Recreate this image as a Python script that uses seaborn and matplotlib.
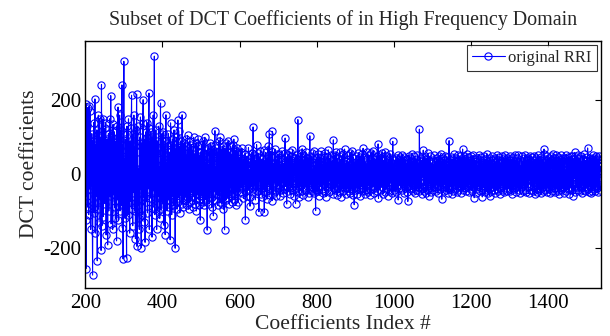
import numpy as np
import pandas as pd
import matplotlib
matplotlib.use("Agg")
import matplotlib.pyplot as plt
import seaborn as sns

# DCT coefficient values (index 200 ... 1536), read/
seg_200 = [40, -124, -256, 191, -60, 130, 180, -90, 20, -110, 185, -40, 75, 170, -150, 60, -30, 110, -85, -274,
           90, -20, 140, -105, 35, 204, -160, 15, 80, -60, 120, -235, 50, -95, 160, 10, -130, 150, 25, -70,
           100, -207, 243, -140, 65, -10, 150, -115, 85, -45, 125, -80, 30, 140, -165, 70, -25, 95, -192, 55,
           110, -100, 40, 150, -60, 5, 213, -135, 75, -20, 100, -150, 135, -55, 20, 115, -90, 45, -120, 90,
           -10, -181, 130, -70, 30, 182, -125, 60, -40, 160, -100, 15, 120, -85, 50, 242, -145, 80, -230, 110]
seg_300 = [306, -60, 40, -120, 95, 10, -80, -227, 130, -35, 70, -110, 150, -30, 45, -160, 90, -75, 20, 125,
           214, -95, 35, -140, 110, -50, 160, 5, -100, 75, -175, 120, -25, 217, -196, 60, 130, -85, 15, -120,
           -150, 100, -40, 155, -70, -200, 85, 20, -110, 140, 202, -60, 30, -130, 95, -185, 45, 115, -75, 10,
           140, -105, 70, -40, 125, 220, -150, 30, 90, -65, 115, -20, 50, -171, 100, -90, 160, -45, 25, 320,
           -110, 60, -30, 120, -80, -150, 90, 15, -100, 70, 130, -60, 20, -120, 85, 193, -95, 40, -70, 110]
seg_400 = [60, -80, 115, -40, -139, 75, 20, -164, 90, 161, -55, 30, -100, 85, -20, 110, -70, 45, -90, 60,
           -178, 139, -30, 80, -110, 25, 95, -60, 10, -85, 120, -40, 70, -201, 55, -75, 100, -20, -95, 45,
           147, -65, 118, -30, 75, -105, 40, 90, -55, 15, -80, 161, -45, 60, -90, 30, 85, -70, 10, -60,
           95, -40, 50, -85, 20, 105, -65, 35, -95, 70, -20, 90, -75, 40, -50, 80, -30, 15, -90, 65,
           -45, 100, -60, 25, -80, 55, -15, 85, -100, 40, -55, 75, -25, 95, -70, 30, -85, 50, -125, 60]
seg_500 = [-20, 80, -60, 35, -75, 90, -40, 20, -85, 55, 100, -50, 30, -70, 65, -30, -152, 45, 70, -55,
           25, -80, 60, -40, 85, -65, 10, 75, -90, 40, -30, 65, -113, 50, -45, 80, 118, -70, 20, -55,
           70, -35, 45, -85, 60, -20, 90, -60, 30, -75, 100, -45, 15, 65, -80, 40, -25, 75, -95, 55,
           -30, -151, 70, -50, 35, -70, 85, -40, 20, -65, 89, -55, 45, -80, 30, 60, -35, 75, -60, 10,
           -75, 55, -25, 80, -50, 95, -70, 40, -15, 65, -85, 35, -45, 70, -30, 50, -75, 60, -20, 45]
seg_600 = [-48, 22, -5, 61, -37, 14, 70, -52, -18, 33, -66, 41, 8, -29, 55, -124, 27, -12, 48, -58,
           5, 36, -44, 72, -21, 10, -63, -87, 44, 18, -35, 58, -8, 25, -49, 128, -40, 2, 52, -27,
           15, -70, 38, -14, 80, -45, 24, -6, 57, -33, -102, 46, -20, 12, 64, -55, 30, -9, 41, -62,
           20, -38, 66, -11, -104, 35, 7, -48, 59, -25, 14, -68, 43, -3, 76, -30, 21, 110, -57, 16,
           -41, 62, -17, 9, -72, 116, -34, 28, -52, 5, 48, -24, 68, -46, 13, -59, 37, -8, 54, -31]
seg_700 = [42, -15, 55, -38, 8, -60, 27, 11, -44, 63, -22, 36, -7, -51, 30, 18, -40, 57, 98, -33,
           12, 46, -81, 25, -9, 52, -46, 3, 39, -28, 61, -55, 17, -14, 48, -36, 6, 65, -42, 21,
           -58, 31, -4, 44, -25, -80, 53, 10, -37, 28, -12, 148, -49, 34, 2, -63, 40, -19, 57, -30,
           15, -47, 69, -22, 8, -56, 38, -10, 50, -34, 24, -5, 59, -43, 19, 33, -61, 45, -16, 27,
           -52, 36, 104, -28, -8, 47, -39, 14, 58, -45, 3, -26, 62, -50, 22, 9, -37, -99, 41, -18]
seg_800 = [30, -47, 12, 55, -21, 38, -58, 5, 44, -33, 19, -6, 62, -40, 26, -52, 16, 49, -27, 8,
           -45, 58, -14, 33, -61, 22, -3, 47, -36, 11, 66, -49, 28, -18, 41, -8, 53, -42, 15, -30,
           37, -55, 20, 93, -38, 6, 51, -44, 24, -12, 59, -32, 9, -57, 43, -20, 30, 4, -48, 61,
           -25, 16, -63, 39, -7, 48, -35, 21, 55, -46, 13, -29, 68, -41, 27, -10, -54, 36, 18, -37,
           52, -22, 7, -47, 34, -15, 57, -51, 25, 3, -39, 63, -28, 14, -56, 45, -9, -83, 31, -43]
seg_900 = [24, -36, 50, -14, 8, -53, 39, -27, 58, -41, 17, -4, 46, -59, 29, -19, 54, -31, 11, -45,
           70, -38, 21, -9, 47, -55, 33, 5, -42, 26, -16, 60, -48, 14, -29, 51, -6, 37, -57, 19,
           -23, 56, -40, 10, 43, -33, 63, -18, 28, -52, 6, 41, -37, 22, -11, 49, -46, 31, 3, 82,
           -66, 35, -20, 52, -43, 15, -7, 45, -34, 58, -24, 12, -54, 38, -2, 27, -49, 61, -28, 9,
           -39, 48, -15, 30, -58, 20, 40, -31, 7, -47, 55, -22, 34, -11, 44, -50, 16, 89, -35, 25]
seg_1000 = [-42, 18, 37, -26, 5, -48, 44, -13, 29, -35, 52, -70, 21, -8, 40, -30, 11, 47, -38, 24,
            -15, 53, -44, 9, 34, -27, 46, -51, 16, -3, 41, -36, 27, -49, 14, 38, -74, 22, -19, 50,
            -33, 6, 43, -41, 28, -12, 55, -37, 19, -46, 33, 2, -29, 48, -52, 25, -10, 39, -43, 15,
            -24, 51, -35, 12, 30, -47, 122, -21, 8, 44, -39, 23, -54, 36, -6, 17, 65, -45, 31, -16,
            47, -32, 10, -50, 42, -20, 26, -42, 57, -11, -58, 35, -27, 4, 49, -38, 20, -48, 30, -13]
seg_1100 = [39, -44, 16, 25, -36, 52, -18, 7, -47, 33, -25, 45, -9, 28, -52, 37, -14, 49, -31, 12,
            -40, 54, -22, 30, -68, 19, 43, -34, 3, -46, 38, -16, 50, -28, 22, -43, 11, 46, -37, 26,
            -50, 17, 34, 91, -41, 29, -6, 47, -33, 14, -53, 40, -20, 31, -45, 8, 55, -30, 21, -39,
            44, -12, 27, -49, 36, -24, 52, -42, 9, 33, -36, 48, -17, 24, -51, 41, -8, 30, 68, -44,
            23, -29, 50, -38, 13, 42, -47, 19, -21, 55, -35, 28, -10, 46, -48, 20, 36, -26, 5, -41]
seg_1200 = [48, -23, 32, -45, 15, 51, -36, 9, -64, 41, -19, 27, -50, 35, -7, 44, -40, 22, 12, -33,
            53, -28, 18, -46, 38, -14, 47, -42, 25, -62, 31, 6, -37, 50, -24, 16, -48, 40, -11, 29,
            -43, 55, -30, 20, -52, 34, 3, -39, -59, 45, -16, 28, -47, 37, -21, 49, -35, 14, 26, -44,
            42, -18, 33, -51, 24, 10, -41, 53, -29, 17, -46, 39, -6, 47, -38, 21, -53, 30, 13, -32,
            50, -25, 36, -43, 8, 44, -49, 19, -15, 52, -37, 27, -22, 45, -47, 32, 4, -40, 38, -20]
seg_1300 = [31, -46, 49, -12, 22, -54, 40, -30, 17, 46, -41, 9, -27, 51, -36, 25, -48, 35, -5, 43,
            -33, 14, 53, -44, 28, -19, 39, -50, 21, 7, -38, 48, -25, 33, -47, 16, 44, -29, 11, -42,
            52, -21, 30, -49, 37, -9, 45, -36, 19, -52, 41, -14, 26, 50, -43, 23, -31, 47, -18, 34,
            -45, 12, 48, -34, 27, -55, 38, -20, 6, 44, -39, 29, -48, 53, -26, 15, -42, 36, 21, -30,
            46, -51, 24, -17, 40, -37, 32, -46, 55, 68, -28, 13, -44, 42, -23, 35, -49, 18, 50, -35]
seg_1400 = [28, -40, 45, -15, 33, -52, 19, 49, -31, 8, -45, 38, -22, 54, -37, 26, -11, 43, -48, 30,
            -26, 51, -39, 14, 36, -46, 47, -19, 24, -53, 40, -8, 31, -43, 52, -28, 18, -36, 45, -13,
            37, -50, 22, 44, -33, 10, -47, 53, -24, 29, -41, 46, -16, 34, -54, 39, -20, 25, 48, -38,
            15, -44, 50, -27, 32, -58, 41, -12, 21, 59, -49, 35, -23, 46, -35, 17, 52, -42, 28, -18,
            44, -46, 26, -10, 49, -37, 33, -51, 14, 42, -29, 38, -43, 54, -21, 27, -47, 36, 9, -34]
seg_1500 = [47, -25, 71, -39, 30, -48, 16, 45, -32, 23, -50, 40, -14, 35, -45, 52, -27, 19, -41, 43,
            -20, 31, -46, 50, -33, 12, 44, -38, 26, -49, 37, -17, 48, -30, -44, 22, 9]

coeffs = (seg_200 + seg_300 + seg_400 + seg_500 + seg_600 + seg_700 + seg_800 + seg_900 +
          seg_1000 + seg_1100 + seg_1200 + seg_1300 + seg_1400 + seg_1500)
start_index = 200
x_ticks = [200, 400, 600, 800, 1000, 1200, 1400]
y_ticks = [-200, 0, 200]

df = pd.DataFrame({"idx": np.arange(start_index, start_index + len(coeffs)),
                   "coef": coeffs})

sns.set_style("white")
plt.rcParams["font.family"] = ["Liberation Serif", "DejaVu Serif"]
plt.rcParams["axes.unicode_minus"] = False

fig = plt.figure(figsize=(6.1, 3.36), dpi=100)
ax = fig.add_axes([0.1398, 0.1438, 0.845, 0.7351])

sns.lineplot(data=df, x="idx", y="coef", ax=ax, color="#0000ff", linewidth=0.8,
             marker="o", markersize=5.2, markerfacecolor="none", markeredgecolor="#0000ff",
             markeredgewidth=0.8, label="original RRI", sort=False, estimator=None)

ax.set_xlim(200, 1536)
ax.set_ylim(-308, 362)
ax.set_xticks(x_ticks)
ax.set_yticks(y_ticks)
ax.tick_params(axis="x", pad=4.5)
ax.tick_params(axis="y", pad=3)
ax.tick_params(direction="in", length=4, width=0.8, top=True, right=True,
               labelsize=15, colors="black")
for s in ax.spines.values():
    s.set_color("black")
    s.set_linewidth(1.0)

ax.set_title("Subset of DCT Coefficients of in High Frequency Domain", fontsize=14.4, pad=11)
ax.set_xlabel("Coefficients Index #", fontsize=15.5, labelpad=1.5)
ax.set_ylabel("DCT coefficients", fontsize=15.5, labelpad=3)

leg = ax.legend(loc="upper right", fontsize=12, frameon=True, fancybox=False,
                edgecolor="black", borderaxespad=0.25, handlelength=2.0,
                handletextpad=0.2, borderpad=0.3)
leg.get_frame().set_linewidth(0.8)

fig.savefig("out.png", dpi=100)
